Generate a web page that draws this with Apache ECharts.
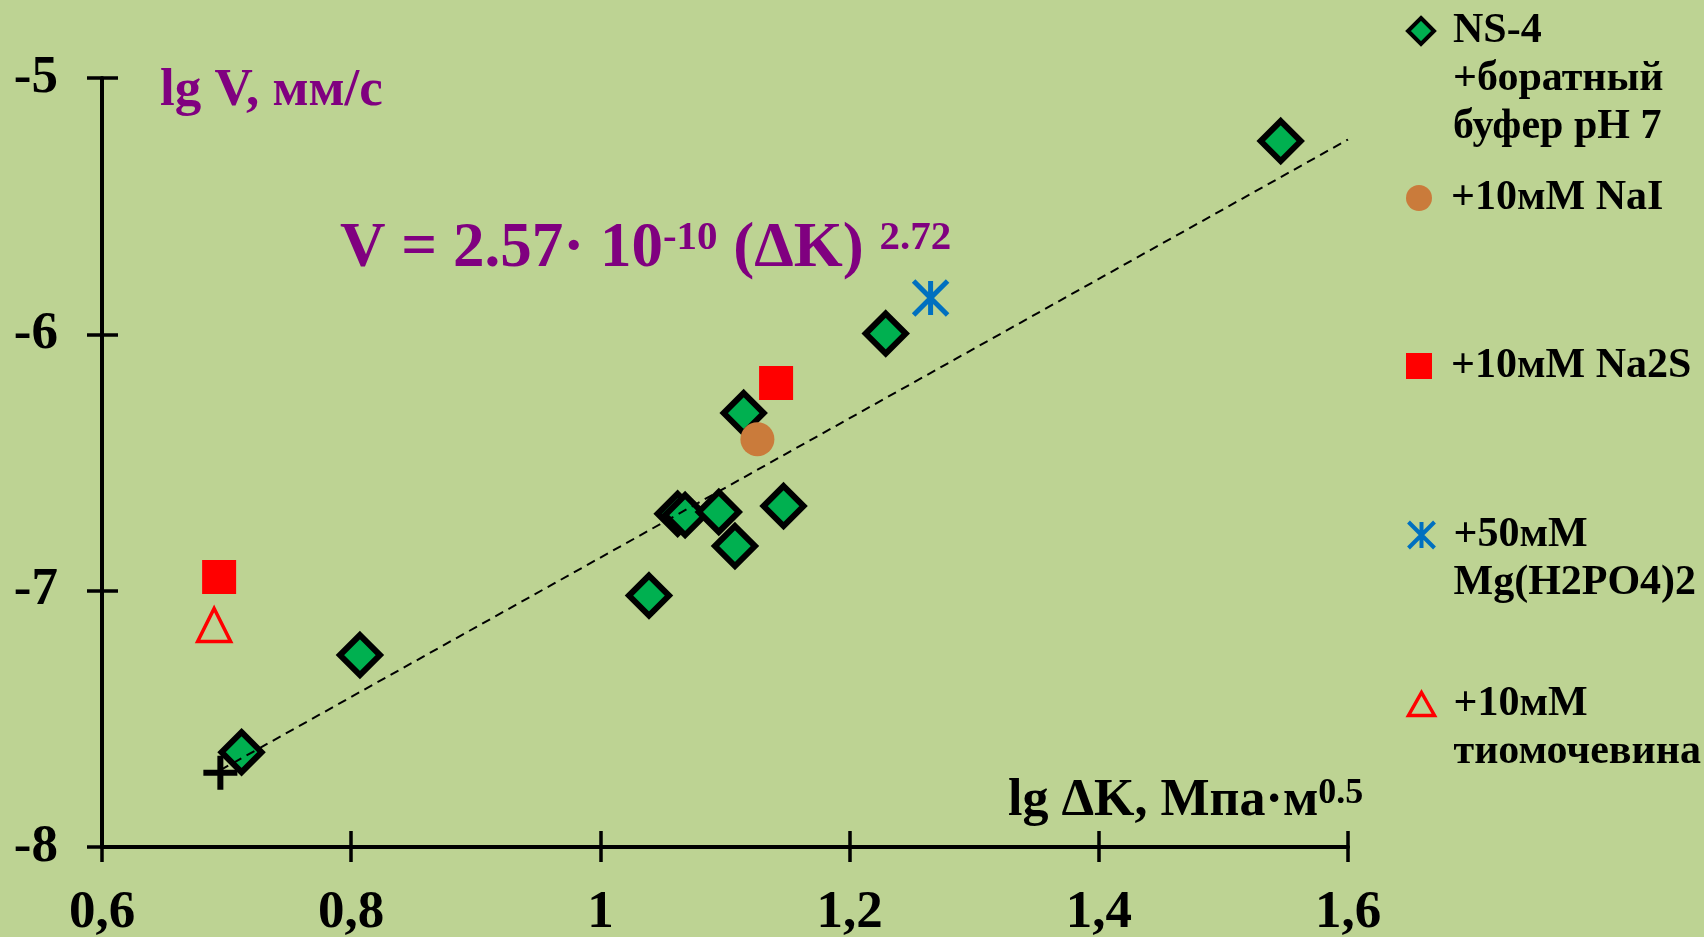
<!DOCTYPE html>
<html>
<head>
<meta charset="utf-8">
<script src="https://cdn.jsdelivr.net/npm/echarts@6/dist/echarts.min.js"></script>
<style>
  html, body { margin: 0; padding: 0; background: #BDD393; }
  #chart { width: 1704px; height: 937px; }
</style>
</head>
<body>
<div id="chart"></div>
<script>
// lg ΔK (x) and lg V (y) for each sample group
const ns4X  = [0.712, 0.807, 1.039, 1.062, 1.068, 1.095, 1.108, 1.147, 1.115, 1.229, 1.546];
const ns4Y  = [-7.630, -7.251, -7.019, -6.700, -6.705, -6.693, -6.826, -6.670, -6.307, -5.997, -5.246];
const naiX  = [1.126];
const naiY  = [-6.409];
const na2sX = [1.141, 0.694];
const na2sY = [-6.190, -6.947];
const mgX   = [1.265];
const mgY   = [-5.858];
const thioX = [0.690];
const thioY = [-7.134];
// power-law fit line (dashed), its start point marked with a cross
const fitX  = [0.695, 1.600];
const fitY  = [-7.700, -5.240];

const seriesNames = [
  'NS-4\n+боратный\nбуфер pH 7',
  '+10мМ NaI',
  '+10мМ Na2S',
  '+50мМ\nMg(H2PO4)2',
  '+10мМ\nтиомочевина'
];
const xTicks = { min: 0.6, max: 1.6, step: 0.2 };
const yTicks = { min: -8, max: -5, step: 1 };

const pairs = (xs, ys) => xs.map((x, i) => [x, ys[i]]);
const SERIF = '"Liberation Serif", "Times New Roman", serif';
const PURPLE = '#800080';

const STAR = 'path://M0,-10L0,10M-10,-10L10,10M-10,10L10,-10';
const PLUS = 'path://M-10,0L10,0M0,-10L0,10';

const chart = echarts.init(document.getElementById('chart'), null, { renderer: 'canvas' });

const axisCommon = {
  type: 'value',
  splitLine: { show: false }
};

// One legend block per entry; the first text line sits level with the icon,
// so the text is padded with blank lines above to keep it centred there.
const LEGEND_LH = 48;
function legendFor(name, iconCenterY, icon, itemStyle, iconH) {
  const lines = name.split('\n').length;
  return {
    show: true,
    orient: 'vertical',
    left: 1406,
    top: iconCenterY - LEGEND_LH / 2 - (lines - 1) * LEGEND_LH,
    padding: 0,
    itemWidth: 26,
    itemHeight: iconH || 26,
    selectedMode: false,
    data: [{ name: name, icon: icon, itemStyle: itemStyle }],
    formatter: n => '\n'.repeat(lines - 1) + n,
    textStyle: {
      fontFamily: SERIF, fontSize: 42, fontWeight: 'bold', color: '#000',
      lineHeight: LEGEND_LH, padding: [0, 0, 0, 14]
    }
  };
}

const option = {
  backgroundColor: '#BDD393',
  animation: false,
  grid: { left: 102, right: 356, top: 78, bottom: 90, containLabel: false, outerBoundsMode: 'none' },
  xAxis: [
    Object.assign({}, axisCommon, {
      min: xTicks.min, max: xTicks.max, interval: xTicks.step, position: 'bottom',
      axisLine: { show: true, onZero: false, lineStyle: { color: '#000', width: 4 } },
      axisTick: { show: true, inside: false, length: 15, lineStyle: { color: '#000', width: 3.5 } },
      axisLabel: {
        show: true, margin: 40, color: '#000', fontFamily: SERIF, fontSize: 53, fontWeight: 'bold',
        formatter: v => String(Number(v.toFixed(1))).replace('.', ',')
      }
    }),
    Object.assign({}, axisCommon, {
      min: xTicks.min, max: xTicks.max, interval: xTicks.step, position: 'bottom',
      axisLine: { show: false },
      axisTick: { show: true, inside: true, length: 16, lineStyle: { color: '#000', width: 3.5 } },
      axisLabel: { show: false }
    })
  ],
  yAxis: [
    Object.assign({}, axisCommon, {
      min: yTicks.min, max: yTicks.max, interval: yTicks.step, position: 'left',
      axisLine: { show: true, onZero: false, lineStyle: { color: '#000', width: 4 } },
      axisTick: { show: true, inside: false, length: 15, lineStyle: { color: '#000', width: 3.5 } },
      axisLabel: {
        show: true, margin: 44, color: '#000', fontFamily: SERIF, fontSize: 53, fontWeight: 'bold'
      }
    }),
    Object.assign({}, axisCommon, {
      min: yTicks.min, max: yTicks.max, interval: yTicks.step, position: 'left',
      axisLine: { show: false },
      axisTick: { show: true, inside: true, length: 16, lineStyle: { color: '#000', width: 3.5 } },
      axisLabel: { show: false }
    })
  ],
  legend: [
    legendFor(seriesNames[0], 31, 'diamond', { color: '#00B050', borderColor: '#000', borderWidth: 4 }),
    legendFor(seriesNames[1], 198, 'circle', { color: '#CA7B3B', borderWidth: 0 }),
    legendFor(seriesNames[2], 366, 'rect', { color: '#FF0000', borderWidth: 0 }),
    legendFor(seriesNames[3], 535, STAR, { color: 'none', borderColor: '#0070C0', borderWidth: 4 }),
    legendFor(seriesNames[4], 704, 'triangle', { color: 'none', borderColor: '#FF0000', borderWidth: 3.5 }, 23)
  ],
  series: [
    {
      name: seriesNames[0], type: 'scatter', data: pairs(ns4X, ns4Y),
      symbol: 'diamond', symbolSize: 40,
      itemStyle: { color: '#00B050', borderColor: '#000', borderWidth: 6, opacity: 1 },
      emphasis: { disabled: true }, silent: true
    },
    {
      name: 'fit', type: 'line', data: pairs(fitX, fitY),
      symbol: 'none', z: 3,
      lineStyle: { color: '#000', width: 2, type: [9, 6] },
      emphasis: { disabled: true }, silent: true
    },
    {
      name: 'fit start', type: 'scatter', data: [[fitX[0], fitY[0] - 0.01]],
      symbol: PLUS, symbolSize: 34, z: 3,
      itemStyle: { color: 'none', borderColor: '#000', borderWidth: 6, opacity: 1 },
      emphasis: { disabled: true }, silent: true
    },
    {
      name: seriesNames[1], type: 'scatter', data: pairs(naiX, naiY),
      symbol: 'circle', symbolSize: 34, z: 4,
      itemStyle: { color: '#CA7B3B', opacity: 1 },
      emphasis: { disabled: true }, silent: true
    },
    {
      name: seriesNames[2], type: 'scatter', data: pairs(na2sX, na2sY),
      symbol: 'rect', symbolSize: 34, z: 4,
      itemStyle: { color: '#FF0000', opacity: 1 },
      emphasis: { disabled: true }, silent: true
    },
    {
      name: seriesNames[3], type: 'scatter', data: pairs(mgX, mgY),
      symbol: STAR, symbolSize: 34, z: 4,
      itemStyle: { color: 'none', borderColor: '#0070C0', borderWidth: 5, opacity: 1 },
      emphasis: { disabled: true }, silent: true
    },
    {
      name: seriesNames[4], type: 'scatter', data: pairs(thioX, thioY),
      symbol: 'triangle', symbolSize: 33, z: 4,
      itemStyle: { color: 'none', borderColor: '#FF0000', borderWidth: 3.5, opacity: 1 },
      emphasis: { disabled: true }, silent: true
    }
  ],
  graphic: [
    {
      type: 'text', x: 160, y: 91, silent: true,
      style: {
        text: 'lg V, мм/с', fill: PURPLE, font: 'bold 53px ' + SERIF,
        align: 'left', verticalAlign: 'middle'
      }
    },
    {
      type: 'text', x: 1008, y: 776, silent: true,
      style: {
        text: '{a|lg ΔK, Мпа·м}{b|0.5}', align: 'left', verticalAlign: 'top',
        rich: {
          a: { fontFamily: SERIF, fontSize: 52, fontWeight: 'bold', fill: '#000', lineHeight: 52 },
          b: { fontFamily: SERIF, fontSize: 36, fontWeight: 'bold', fill: '#000', lineHeight: 40, verticalAlign: 'top' }
        }
      }
    },
    {
      type: 'text', x: 340, y: 218, silent: true,
      style: {
        text: '{m|V = 2.57· 10}{s|-10}{m| (ΔK) }{s|2.72}', align: 'left', verticalAlign: 'top',
        rich: {
          m: { fontFamily: SERIF, fontSize: 63, fontWeight: 'bold', fill: PURPLE, lineHeight: 64, verticalAlign: 'top' },
          s: { fontFamily: SERIF, fontSize: 41, fontWeight: 'bold', fill: PURPLE, lineHeight: 70, verticalAlign: 'top' }
        }
      }
    }
  ]
};

chart.setOption(option);
</script>
</body>
</html>
